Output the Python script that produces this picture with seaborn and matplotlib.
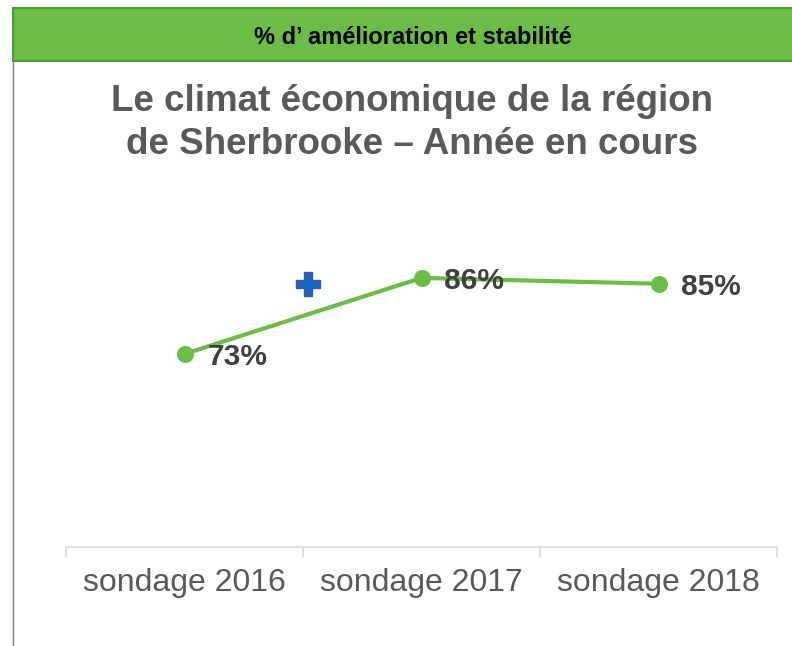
import matplotlib
matplotlib.use('Agg')
import matplotlib.pyplot as plt
import seaborn as sns
from matplotlib.patches import Rectangle
from matplotlib.lines import Line2D

# data
categories = ['sondage 2016', 'sondage 2017', 'sondage 2018']
values = [73, 86, 85]
labels = ['73%', '86%', '85%']
plus_x = 0.52
plus_y = 85

header = '% d\u2019 amélioration et stabilité'
title = 'Le climat économique de la région\nde Sherbrooke \u2013 Année en cours'

sns.set_style('white')
plt.rcParams['font.family'] = ['Liberation Sans', 'DejaVu Sans']

W, H = 792, 646
fig = plt.figure(figsize=(W / 100, H / 100), dpi=100)

# header bar
fig.patches.append(Rectangle((13 / W, 1 - 61 / H), 1, 53 / H, transform=fig.transFigure,
                             facecolor='#6BBD45', edgecolor='#4F9A32', linewidth=1.5))
fig.text(413 / W, 1 - 37 / H, header, ha='center', va='center', fontsize=17,
         fontweight='bold', color='black')

# left border
fig.lines.append(Line2D([13 / W, 13 / W], [0, 1 - 61 / H], transform=fig.transFigure,
                        color='#7F7F7F', linewidth=1))

# title
fig.text(412 / W, 1 - 123 / H, title, ha='center', va='center', fontsize=26.5,
         fontweight='bold', color='#595959', linespacing=1.3)

ax = fig.add_axes([66 / W, 99 / H, (777 - 66) / W, (547 - 196) / H])
sns.pointplot(x=categories, y=values, color='#6BBD45', markers='o', linewidth=3,
              markersize=10, ax=ax)
ax.scatter([plus_x], [plus_y], marker='P', s=300, color='#1565C0', edgecolor='#3F51B5',
           linewidth=1, zorder=5)

for i, (v, lab) in enumerate(zip(values, labels)):
    ax.annotate(lab, (i, v), xytext=(16.5, -2), textcoords='offset points', ha='left',
                va='center', fontsize=21.5, fontweight='bold', color='#404040')

ax.set_xlim(-0.5, 2.5)
ax.set_ylim(40, 100)
ax.set_yticks([])
ax.set_xlabel('')
ax.set_ylabel('')
for s in ['top', 'right', 'left']:
    ax.spines[s].set_visible(False)
ax.spines['bottom'].set_color('#D9D9D9')
ax.spines['bottom'].set_linewidth(1.2)

ax.set_xticks([0, 1, 2])
ax.set_xticklabels(categories, fontsize=23, color='#595959')
ax.tick_params(axis='x', which='major', length=0, pad=15)
ax.set_xticks([-0.5, 0.5, 1.5, 2.5], minor=True)
ax.tick_params(axis='x', which='minor', length=7, width=1.2, color='#D9D9D9', bottom=True)

fig.savefig('out.png', dpi=100)
